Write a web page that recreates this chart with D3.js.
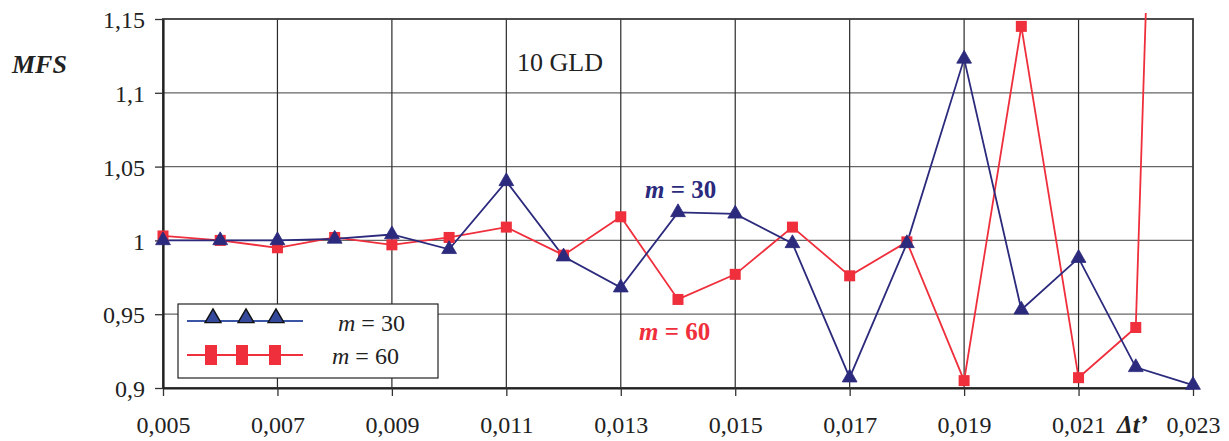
<!DOCTYPE html>
<html>
<head>
<meta charset="utf-8">
<script src="https://cdn.jsdelivr.net/npm/d3@7"></script>
<style>
  body { margin: 0; background: #fff; }
  svg { display: block; font-family: "Liberation Serif", "Times New Roman", serif; }
</style>
</head>
<body>
<svg id="chart" width="1229" height="441"></svg>
<script>
// Time step values (Δt') and MFS results for the two mesh sizes
const dtValues = [0.005, 0.006, 0.007, 0.008, 0.009, 0.010, 0.011, 0.012, 0.013, 0.014,
                  0.015, 0.016, 0.017, 0.018, 0.019, 0.020, 0.021, 0.022, 0.023];
const mfsM30 = [1.000, 1.000, 1.000, 1.001, 1.004, 0.994, 1.040, 0.989, 0.968, 1.019,
                1.018, 0.998, 0.907, 0.998, 1.123, 0.953, 0.988, 0.914, 0.902];
const mfsM60 = [1.003, 1.000, 0.995, 1.002, 0.997, 1.002, 1.009, 0.990, 1.016, 0.960,
                0.977, 1.009, 0.976, 0.999, 0.905, 1.145, 0.907, 0.941, 2.160];
const xTickValues = [0.005, 0.007, 0.009, 0.011, 0.013, 0.015, 0.017, 0.019, 0.021, 0.023];
const yTickValues = [0.9, 0.95, 1.0, 1.05, 1.1, 1.15];
const seriesLabels = ["m = 30", "m = 60"];

const fmtComma = d => String(+d.toFixed(3)).replace(".", ",");

const svg = d3.select("#chart");
const plotL = 163, plotR = 1193, plotT = 19, plotB = 388;

const x = d3.scaleLinear().domain([0.005, 0.023]).range([plotL, plotR]);
const y = d3.scaleLinear().domain([0.9, 1.15]).range([plotB, plotT]);

const navy = "#2b2a7c", red = "#ef2f3c";

// grid
svg.append("g").selectAll("line").data(yTickValues.filter(v => v > 0.9 && v < 1.15)).join("line")
  .attr("x1", plotL).attr("x2", plotR).attr("y1", d => y(d)).attr("y2", d => y(d))
  .attr("stroke", "#666").attr("stroke-width", 1.3);
svg.append("g").selectAll("line").data(xTickValues.filter(v => v > 0.005 && v < 0.023)).join("line")
  .attr("x1", d => x(d)).attr("x2", d => x(d)).attr("y1", plotT).attr("y2", plotB)
  .attr("stroke", "#2a2a2a").attr("stroke-width", 1.2);

// frame
svg.append("rect").attr("x", plotL).attr("y", plotT).attr("width", plotR - plotL).attr("height", plotB - plotT)
  .attr("fill", "none").attr("stroke", "#3a3a3a").attr("stroke-width", 1.8);

// axes
const xAxis = d3.axisBottom(x).tickValues(xTickValues).tickSize(8).tickSizeOuter(0).tickFormat(fmtComma);
const gx = svg.append("g").attr("transform", `translate(0,${plotB})`).call(xAxis);
gx.select(".domain").attr("stroke", "#222").attr("stroke-width", 2.2);
gx.selectAll(".tick line").attr("stroke", "#333").attr("stroke-width", 1.3);
gx.selectAll(".tick text").attr("font-size", 24).attr("font-family", "Liberation Serif")
  .attr("fill", "#222").attr("y", 0).attr("dy", 45);

const yAxis = d3.axisLeft(y).tickValues(yTickValues).tickSize(8).tickSizeOuter(0).tickFormat(fmtComma);
const gy = svg.append("g").attr("transform", `translate(${plotL},0)`).call(yAxis);
gy.select(".domain").attr("stroke", "#222").attr("stroke-width", 2.2);
gy.selectAll(".tick line").attr("stroke", "#333").attr("stroke-width", 1.3);
gy.selectAll(".tick text").attr("font-size", 24).attr("font-family", "Liberation Serif")
  .attr("fill", "#222").attr("x", -18).attr("dy", "0.36em");

// clip lines slightly above the top of the plot
svg.append("clipPath").attr("id", "plotClip").append("rect")
  .attr("x", 0).attr("y", 13).attr("width", 1229).attr("height", 441);

const line = d3.line().x((d, i) => x(dtValues[i])).y(d => y(d));

svg.append("path").datum(mfsM60).attr("clip-path", "url(#plotClip)")
  .attr("d", line).attr("fill", "none").attr("stroke", red).attr("stroke-width", 1.8);
svg.append("path").datum(mfsM30).attr("clip-path", "url(#plotClip)")
  .attr("d", line).attr("fill", "none").attr("stroke", navy).attr("stroke-width", 1.8);

// square markers (m = 60)
svg.append("g").selectAll("rect")
  .data(mfsM60.map((v, i) => [dtValues[i], v]).filter(d => d[1] <= 1.15))
  .join("rect")
  .attr("x", d => x(d[0]) - 5.5).attr("y", d => y(d[1]) - 5.5)
  .attr("width", 11).attr("height", 11).attr("fill", red);

// triangle markers (m = 30)
const tri = d3.symbol().type(d3.symbolTriangle).size(95);
svg.append("g").selectAll("path")
  .data(mfsM30.map((v, i) => [dtValues[i], v]))
  .join("path")
  .attr("d", tri)
  .attr("transform", d => `translate(${x(d[0])},${y(d[1])})`)
  .attr("fill", navy).attr("stroke", navy).attr("stroke-width", 0.8);

// legend
const lg = svg.append("g");
lg.append("rect").attr("x", 178).attr("y", 304).attr("width", 260).attr("height", 74)
  .attr("fill", "#fff").attr("stroke", "#222").attr("stroke-width", 1.2);
lg.append("line").attr("x1", 187).attr("x2", 303).attr("y1", 321).attr("y2", 321)
  .attr("stroke", "#3b55a6").attr("stroke-width", 2);
[213, 246, 276].forEach(cx => {
  lg.append("path").attr("d", d3.symbol().type(d3.symbolTriangle).size(110))
    .attr("transform", `translate(${cx},${318})`)
    .attr("fill", "#34489c").attr("stroke", "#111").attr("stroke-width", 1.4);
});
lg.append("line").attr("x1", 187).attr("x2", 303).attr("y1", 355).attr("y2", 355)
  .attr("stroke", red).attr("stroke-width", 2);
[211, 242, 275].forEach(cx => {
  lg.append("rect").attr("x", cx - 6).attr("y", 345).attr("width", 12).attr("height", 20).attr("fill", red);
});
const legText = (ty, label, tx) => {
  const t = lg.append("text").attr("x", tx).attr("y", ty).attr("font-size", 24).attr("fill", "#222");
  const parts = label.split(" ");
  t.append("tspan").attr("font-style", "italic").text(parts[0]);
  t.append("tspan").text(" " + parts.slice(1).join(" "));
};
legText(331, seriesLabels[0], 338);
legText(364, seriesLabels[1], 332);

// annotations
svg.append("text").attr("x", 12).attr("y", 73).attr("font-size", 26).attr("font-weight", "bold")
  .attr("font-style", "italic").attr("fill", "#222").text("MFS");
svg.append("text").attr("x", 517).attr("y", 71).attr("font-size", 26).attr("fill", "#222").text("10 GLD");
svg.append("text").attr("x", 1117).attr("y", 433).attr("font-size", 25).attr("font-weight", "bold")
  .attr("font-style", "italic").attr("fill", "#222").text("Δt’");

const seriesNote = (tx, ty, label, color) => {
  const t = svg.append("text").attr("x", tx).attr("y", ty).attr("font-size", 25)
    .attr("font-weight", "bold").attr("fill", color);
  const parts = label.split(" ");
  t.append("tspan").attr("font-style", "italic").text(parts[0]);
  t.append("tspan").text(" " + parts.slice(1).join(" "));
};
seriesNote(645, 198, seriesLabels[0], navy);
seriesNote(639, 340, seriesLabels[1], red);
</script>
</body>
</html>
